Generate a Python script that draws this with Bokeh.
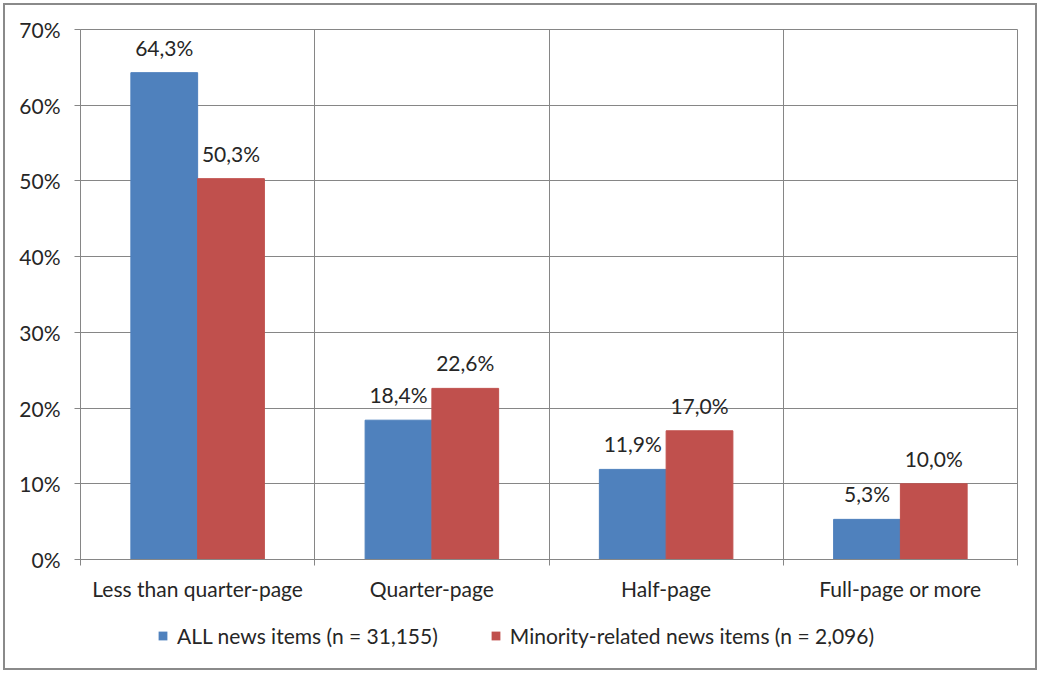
from bokeh.plotting import figure
from bokeh.layouts import column
from bokeh.models import ColumnDataSource, FixedTicker, LabelSet, Legend, LegendItem, Range1d
from bokeh.core.properties import value
from bokeh.embed import file_html
from bokeh.resources import INLINE

categories = ["Less than quarter-page", "Quarter-page", "Half-page", "Full-page or more"]
all_items = [64.3, 18.4, 11.9, 5.3]
minority_items = [50.3, 22.6, 17.0, 10.0]
series_names = ["ALL news items (n = 31,155)", "Minority-related news items (n = 2,096)"]
y_ticks = [0, 10, 20, 30, 40, 50, 60, 70]

BLUE = "#4F81BD"
RED = "#C0504D"
GRID = "#868686"
TEXT = "#262626"
FONT = "Lato"
FS = "21px"

bw = 0.285
centers = [i + 0.5 for i in range(len(categories))]

def fmt(v):
    return ("%.1f%%" % v).replace(".", ",")

src_a = ColumnDataSource(dict(x=[c - bw / 2 for c in centers], top=all_items,
                              label=[fmt(v) for v in all_items]))
src_m = ColumnDataSource(dict(x=[c + bw / 2 for c in centers], top=minority_items,
                              label=[fmt(v) for v in minority_items]))

p = figure(width=1030, height=598, output_backend="svg", toolbar_location=None,
           x_range=Range1d(0, len(categories)), y_range=Range1d(0, 70),
           min_border_left=75, min_border_right=18, min_border_top=24, min_border_bottom=44)
p.outline_line_color = GRID
p.background_fill_color = "white"
p.border_fill_color = "white"

r_a = p.vbar(x="x", top="top", width=bw, source=src_a, fill_color=BLUE, line_color=BLUE)
r_m = p.vbar(x="x", top="top", width=bw, source=src_m, fill_color=RED, line_color=RED)

for s in (src_a, src_m):
    p.add_layout(LabelSet(x="x", y="top", text="label", source=s, text_align="center",
                          text_baseline="bottom", y_offset=13, text_font=value(FONT),
                          text_font_size=FS, text_color=TEXT))

# x axis: labels at centers, tick marks at category boundaries
xt = FixedTicker(ticks=centers, minor_ticks=list(range(len(categories) + 1)))
p.xaxis.ticker = xt
p.xaxis.major_label_overrides = {c: categories[i] for i, c in enumerate(centers)}
p.xaxis.major_tick_out = 0
p.xaxis.major_tick_in = 0
p.xaxis.minor_tick_out = 6
p.xaxis.minor_tick_in = 0
p.xaxis.minor_tick_line_color = GRID
p.xaxis.axis_line_color = GRID
p.xaxis.major_label_standoff = 10
p.xgrid.grid_line_color = None
p.xgrid.minor_grid_line_color = GRID

p.yaxis.ticker = FixedTicker(ticks=y_ticks)
p.yaxis.major_label_overrides = {t: "%d%%" % t for t in y_ticks}
p.yaxis.major_tick_out = 6
p.yaxis.major_tick_in = 0
p.yaxis.minor_tick_line_color = None
p.yaxis.major_tick_line_color = GRID
p.yaxis.axis_line_color = GRID
p.yaxis.major_label_standoff = 14
p.ygrid.grid_line_color = GRID

for ax in (p.xaxis, p.yaxis):
    ax.major_label_text_font = FONT
    ax.major_label_text_font_size = FS
    ax.major_label_text_color = TEXT

# legend strip below the chart (zero-height swatch renderers draw nothing in the strip)
pl = figure(width=1030, height=65, output_backend="svg", toolbar_location=None,
            x_axis_type=None, y_axis_type=None, x_range=Range1d(0, 1), y_range=Range1d(0, 1),
            min_border=0)
pl.outline_line_color = None
pl.grid.visible = False
la = pl.vbar(x=[0.5], top=[0], bottom=[0], width=0.1, fill_color=BLUE, line_color=None)
lm = pl.vbar(x=[0.5], top=[0], bottom=[0], width=0.1, fill_color=RED, line_color=None)
legend = Legend(items=[LegendItem(label=series_names[0], renderers=[la]),
                       LegendItem(label=series_names[1], renderers=[lm])],
                orientation="horizontal", location=(77, 20),
                label_text_font=FONT, label_text_font_size=FS, label_text_color=TEXT,
                glyph_width=11, glyph_height=11, spacing=52, border_line_color=None,
                background_fill_alpha=0, margin=0, padding=0, label_standoff=9)
pl.add_layout(legend, "center")

layout = column(p, pl, spacing=0)
layout.styles = {"margin": "5px", "outline": "2px solid #8a8a8a", "outline-offset": "0px"}

open("out.html", "w").write(file_html(layout, INLINE))
